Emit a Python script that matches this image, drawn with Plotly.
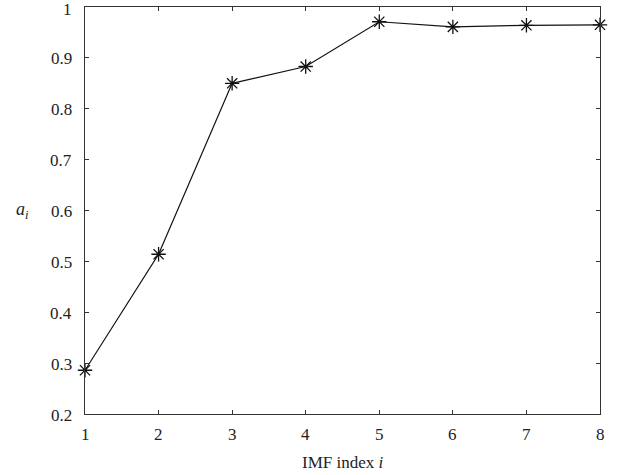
import plotly.graph_objects as go

imf_index = [1, 2, 3, 4, 5, 6, 7, 8]
a_values = [0.286, 0.514, 0.850, 0.883, 0.971, 0.961, 0.964, 0.965]

x_tick_vals = [1, 2, 3, 4, 5, 6, 7, 8]
x_tick_text = ["1", "2", "3", "4", "5", "6", "7", "8"]
y_tick_vals = [0.2, 0.3, 0.4, 0.5, 0.6, 0.7, 0.8, 0.9, 1.0]
y_tick_text = ["0.2", "0.3", "0.4", "0.5", "0.6", "0.7", "0.8", "0.9", "1"]

SERIF = "Liberation Serif"
TXT = "#222222"

fig = go.Figure()
fig.add_trace(go.Scatter(
    x=imf_index, y=a_values,
    mode="lines+markers",
    line=dict(color="#111111", width=1.2),
    marker=dict(symbol="asterisk-open", size=12, color="#111111",
                line=dict(color="#111111", width=1.3)),
    cliponaxis=False,
    showlegend=False,
))

axis_style = dict(
    showline=True, linecolor="#333333", linewidth=1.2,
    mirror="ticks", ticks="inside", ticklen=4, tickwidth=1,
    tickcolor="#333333", showgrid=False, zeroline=False,
    showticklabels=False, automargin=False,
)

fig.update_layout(
    width=620, height=475,
    margin=dict(l=85, r=20, t=7, b=61, autoexpand=False),
    paper_bgcolor="white", plot_bgcolor="white",
    font=dict(family=SERIF, size=17, color=TXT),
    xaxis=dict(range=[1, 8], tickmode="array", tickvals=x_tick_vals, **axis_style),
    yaxis=dict(range=[0.2, 1.0], tickmode="array", tickvals=y_tick_vals, **axis_style),
)

# tick labels placed through the axes' own scales
for v, t in zip(x_tick_vals, x_tick_text):
    fig.add_annotation(text=t, xref="x", x=v, yref="paper", y=0,
                       xanchor="center", yanchor="top", yshift=-9,
                       showarrow=False,
                       font=dict(family=SERIF, size=17, color=TXT))
for v, t in zip(y_tick_vals, y_tick_text):
    fig.add_annotation(text=t, xref="paper", x=0, yref="y", y=v,
                       xanchor="right", yanchor="middle", xshift=-11,
                       yshift=-1 if v < 1 else -2,
                       showarrow=False,
                       font=dict(family=SERIF, size=17, color=TXT))

# axis titles
fig.add_annotation(text="IMF index <i>i</i>", xref="paper", x=0.5,
                   yref="paper", y=0, yanchor="middle", yshift=-48,
                   showarrow=False,
                   font=dict(family=SERIF, size=17, color=TXT))
fig.add_annotation(text="<i>a<sub>i</sub></i>", xref="paper", yref="paper",
                   x=0, y=0.5, xanchor="center", yanchor="middle", xshift=-63,
                   showarrow=False,
                   font=dict(family=SERIF, size=18, color=TXT))

fig.write_html("out.html")
